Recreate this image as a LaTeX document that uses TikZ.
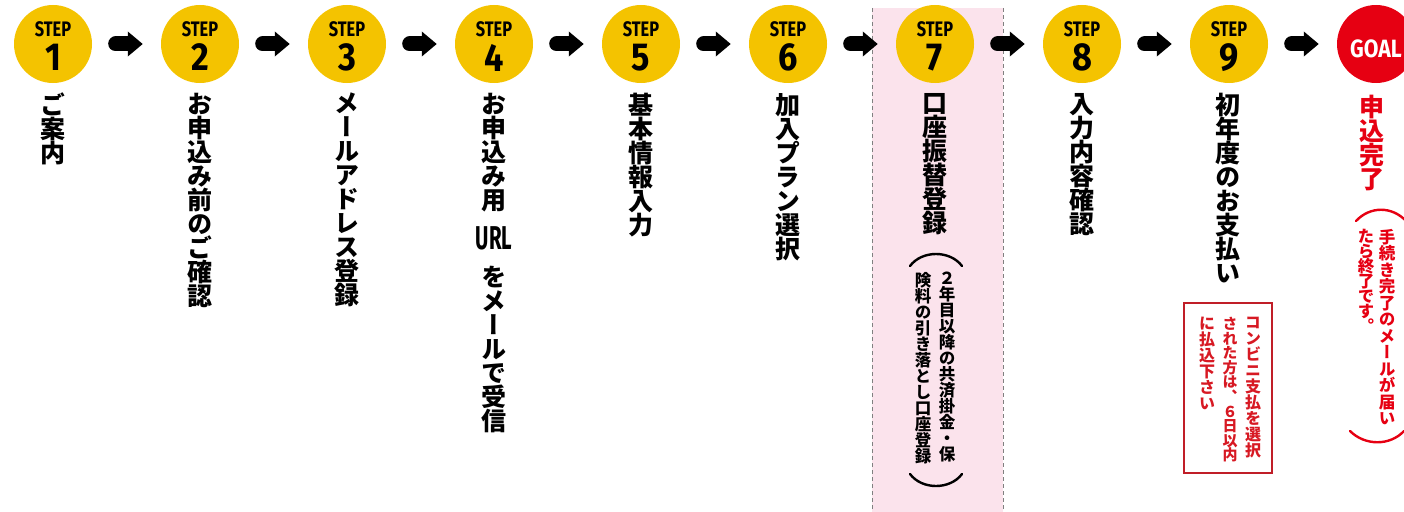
\documentclass[tikz,border=0pt]{standalone}
\usepackage{fontspec}
\usepackage{graphicx}
\newfontfamily\jp[RawFeature=+vert]{Noto Sans CJK JP}
\newfontfamily\lat{Fira Sans}
\definecolor{stepyellow}{RGB}{244,195,0}
\definecolor{goalred}{RGB}{230,0,18}
\definecolor{pinkbg}{RGB}{251,227,236}
\definecolor{boxred}{RGB}{192,30,40}
\definecolor{txtred}{RGB}{215,25,35}
\newdimen\vtw
\def\vtend{\vtend}
\def\vtloop#1{\ifx#1\vtend\else\hbox to\vtw{\hss#1\hss}\expandafter\vtloop\fi}
\newcommand\vt[3]{\vbox{\fontsize{#1}{#2}\selectfont\vtw=#1\baselineskip=#2\lineskip=0pt\lineskiplimit=-100pt\vtloop#3\vtend}}
\tikzset{
  stepc/.style={circle, fill=stepyellow, minimum size=78pt, inner sep=0pt},
  goalc/.style={circle, fill=goalred, minimum size=78pt, inner sep=0pt},
  steplbl/.style={inner sep=0pt, font=\lat\bfseries\fontsize{21}{21}\selectfont},
  stepnum/.style={inner sep=0pt, font=\lat\bfseries\fontsize{39}{39}\selectfont},
  col/.style={anchor=north, inner sep=0pt, font=\jp\bfseries},
  flow/.style={line width=15pt, line cap=round, -{Triangle[width=24pt,length=15pt]}, shorten <=23.5pt, shorten >=18pt},
  brk/.style={line width=2.4pt, line cap=round},
}
\usetikzlibrary{arrows.meta}
\begin{document}
\begin{tikzpicture}[x=1pt,y=-1pt]
\useasboundingbox (0,0) rectangle (1404,511);
\clip (0,0) rectangle (1404,511);
% pink band for step 7
\fill[pinkbg] (872,8) rectangle (1003,512);
\draw[gray, line width=1pt, dash pattern=on 4pt off 3pt] (872,8) -- (872,512);
\draw[gray, line width=1pt, dash pattern=on 4pt off 3pt] (1003,8) -- (1003,512);
% step circles
\foreach \i in {1,...,9} {
  \pgfmathsetmacro{\cx}{53+147*(\i-1)}
  \node[stepc] (s\i) at (\cx,44) {};
  \node[steplbl] (st\i) at (\cx,29.5) {\scalebox{0.78}[1]{STEP}};
  \node[stepnum] (sn\i) at (\cx,57.5) {\scalebox{0.88}[1]{\i}};
}
\node[goalc] (g) at (1376,44) {};
\node[inner sep=0pt, text=white, font=\lat\bfseries\fontsize{25}{25}\selectfont] (gt) at (1376,48.5) {\scalebox{0.85}[1]{GOAL}};
% arrows
\foreach \a/\b in {s1/s2,s2/s3,s3/s4,s4/s5,s5/s6,s6/s7,s7/s8,s8/s9,s9/g}
  \draw[flow] (\a) -- (\b);
% step texts
\node[col] (t1) at (53,93) {\vt{25pt}{24pt}{ご案内}};
\node[col] (t2) at (200,93) {\vt{25pt}{24pt}{お申込み前のご確認}};
\node[col] (t3) at (347,93) {\vt{25pt}{24pt}{メールアドレス登録}};
\node[col] (t4a) at (494,93) {\vt{25pt}{24pt}{お申込み用}};
\node[inner sep=0pt, font=\lat\fontsize{33}{33}\selectfont\bfseries] (t4b) at (494,238.5) {\scalebox{0.62}[1]{URL}};
\node[col] (t4c) at (494,266) {\vt{25pt}{24pt}{をメールで受信}};
\node[col] (t5) at (641,93) {\vt{25pt}{24pt}{基本情報入力}};
\node[col] (t6) at (788,93) {\vt{25pt}{24pt}{加入プラン選択}};
\node[col] (t7) at (935,93) {\vt{25pt}{24pt}{口座振替登録}};
\node[col] (t7r) at (947,272) {\vt{16.5pt}{16pt}{２年目以降の共済掛金・保}};
\node[col] (t7l) at (923,272) {\vt{16.5pt}{16pt}{険料の引き落とし口座登録}};
\draw[brk] (910,266) .. controls (922,250) and (950,250) .. (962,266);
\draw[brk] (910,474) .. controls (922,490) and (950,490) .. (962,474);
\node[col] (t8) at (1082,93) {\vt{25pt}{24pt}{入力内容確認}};
\node[col] (t9) at (1228,93) {\vt{25pt}{24pt}{初年度のお支払い}};
\node[draw=boxred, line width=2pt, minimum width=88pt, minimum height=170pt, inner sep=0pt] (rb) at (1228,388) {};
\node[col, text=txtred] (r1) at (1253,317) {\vt{16pt}{16pt}{コンビニ支払を選択}};
\node[col, text=txtred] (r2) at (1230,317) {\vt{15pt}{14.6pt}{された方は、６日以内}};
\node[col, text=txtred] (r3) at (1207,317) {\vt{16pt}{16pt}{に払込下さい}};
\node[col, text=goalred] (tg) at (1372,95) {\vt{25pt}{24pt}{申込完了}};
\draw[brk, goalred] (1356,221) .. controls (1370,206) and (1392,206) .. (1406,221);
\node[col, text=goalred] (g1) at (1387,229) {\vt{16.5pt}{16.5pt}{手続き完了のメールが届い}};
\node[col, text=goalred] (g2) at (1366,229) {\vt{16.5pt}{15pt}{たら終了です。}};
\draw[brk, goalred] (1350,431) .. controls (1365,446) and (1390,446) .. (1404,431);
\end{tikzpicture}
\end{document}
